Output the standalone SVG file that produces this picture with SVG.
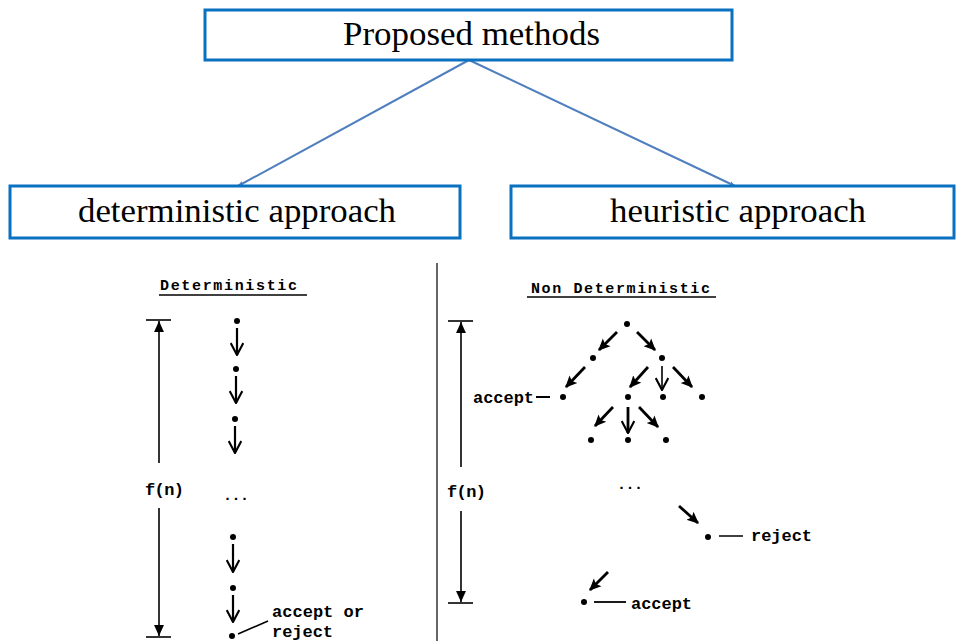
<svg xmlns="http://www.w3.org/2000/svg" width="957" height="641" viewBox="0 0 957 641">
<style>
.box{fill:#fff;stroke:#0a70c0;stroke-width:3}
.title{font-family:"Liberation Serif","Times New Roman",serif;font-size:34px;fill:#000}
.mono{font-family:"Liberation Mono","DejaVu Sans Mono",monospace;font-weight:bold;fill:#000}
.blue{stroke:#4f7fbe;stroke-width:2;fill:none}
.thin{stroke:#000;stroke-width:1.6;fill:none}
.mid{stroke:#000;stroke-width:2.2;fill:none}
.thick{stroke:#000;stroke-width:2.8;fill:none}
.dot{fill:#000}
</style>
<defs>
<marker id="ba" viewBox="0 0 10 10" refX="9" refY="5" markerWidth="6" markerHeight="6" orient="auto" markerUnits="userSpaceOnUse">
<path d="M0,1 L10,5 L0,9 z" fill="#4f7fbe"/>
</marker>
<marker id="fa" viewBox="0 0 10 10" refX="10" refY="5" markerWidth="11" markerHeight="11" orient="auto" markerUnits="userSpaceOnUse">
<path d="M0,0.5 L10,5 L0,9.5 z" fill="#000"/>
</marker>
<marker id="ta" viewBox="0 0 10 10" refX="9" refY="5" markerWidth="12" markerHeight="12" orient="auto" markerUnits="userSpaceOnUse">
<path d="M0,0.5 L10,5 L0,9.5 L2,5 z" fill="#000"/>
</marker>
<marker id="va" viewBox="0 0 10 10" refX="9.5" refY="5" markerWidth="14" markerHeight="14" orient="auto" markerUnits="userSpaceOnUse">
<path d="M1,0.5 L9.5,5 L1,9.5" fill="none" stroke="#000" stroke-width="1.5"/>
</marker>
</defs>

<g id="connectors">
<line class="blue" x1="469" y1="60" x2="238" y2="186" marker-end="url(#ba)"/>
<line class="blue" x1="469" y1="60" x2="735" y2="186" marker-end="url(#ba)"/>
</g>

<g id="proposed">
<rect class="box" x="205" y="10" width="527" height="50"/>
<text class="title" x="343" y="45" textLength="257" lengthAdjust="spacingAndGlyphs">Proposed methods</text>
</g>
<g id="deterministic">
<rect class="box" x="10" y="186" width="450" height="52"/>
<text class="title" x="78" y="222" textLength="318" lengthAdjust="spacingAndGlyphs">deterministic approach</text>
</g>
<g id="heuristic">
<rect class="box" x="511" y="186" width="443" height="52"/>
<text class="title" x="610" y="222" textLength="256" lengthAdjust="spacingAndGlyphs">heuristic approach</text>
</g>

<line x1="437" y1="263" x2="437" y2="641" stroke="#333" stroke-width="1.5"/>

<g id="left-panel">
<text class="mono" x="160" y="290" font-size="15" textLength="137" lengthAdjust="spacing">Deterministic</text>
<line x1="159" y1="295" x2="307" y2="295" stroke="#000" stroke-width="1.3"/>
<line x1="146" y1="320" x2="171" y2="320" class="thin"/>
<line x1="146" y1="637" x2="171" y2="637" class="thin"/>
<line x1="159" y1="463" x2="159" y2="321" class="thin" marker-end="url(#fa)"/>
<line x1="159" y1="508" x2="159" y2="636" class="thin" marker-end="url(#fa)"/>
<text class="mono" x="145" y="495" font-size="17" textLength="39" lengthAdjust="spacing">f(n)</text>
<circle class="dot" cx="237" cy="321" r="3"/>
<line class="mid" x1="237" y1="328" x2="237" y2="355" marker-end="url(#va)"/>
<circle class="dot" cx="236" cy="369" r="3"/>
<line class="mid" x1="236" y1="376" x2="236" y2="403" marker-end="url(#va)"/>
<circle class="dot" cx="235" cy="419" r="3"/>
<line class="mid" x1="235" y1="426" x2="235" y2="453" marker-end="url(#va)"/>
<text class="mono" x="223" y="500" font-size="15" textLength="26" lengthAdjust="spacing" font-weight="normal">...</text>
<circle class="dot" cx="233" cy="537" r="3"/>
<line class="mid" x1="233" y1="544" x2="233" y2="572" marker-end="url(#va)"/>
<circle class="dot" cx="233" cy="588" r="3"/>
<line class="mid" x1="233" y1="595" x2="233" y2="622" marker-end="url(#va)"/>
<circle class="dot" cx="232" cy="636" r="3"/>
<line x1="238" y1="634" x2="268" y2="621" stroke="#000" stroke-width="1.6"/>
<text class="mono" x="272" y="617" font-size="17" textLength="92" lengthAdjust="spacing" font-weight="normal">accept or</text>
<text class="mono" x="272" y="637" font-size="17" textLength="61" lengthAdjust="spacing" font-weight="normal">reject</text>
</g>

<g id="right-panel">
<text class="mono" x="531" y="293" font-size="15" textLength="179" lengthAdjust="spacing">Non Deterministic</text>
<line x1="527" y1="297" x2="716" y2="297" stroke="#000" stroke-width="1.3"/>
<line x1="448" y1="321" x2="473" y2="321" class="thin"/>
<line x1="448" y1="603" x2="473" y2="603" class="thin"/>
<line x1="461" y1="467" x2="461" y2="322" class="thin" marker-end="url(#fa)"/>
<line x1="461" y1="511" x2="461" y2="602" class="thin" marker-end="url(#fa)"/>
<text class="mono" x="447" y="497" font-size="17" textLength="39" lengthAdjust="spacing">f(n)</text>

<circle class="dot" cx="627" cy="324" r="3"/>
<circle class="dot" cx="593" cy="358" r="3"/>
<circle class="dot" cx="662" cy="358" r="3"/>
<circle class="dot" cx="563" cy="397" r="3"/>
<circle class="dot" cx="628" cy="397" r="3"/>
<circle class="dot" cx="663" cy="397" r="3"/>
<circle class="dot" cx="702" cy="397" r="3"/>
<circle class="dot" cx="591" cy="440" r="3"/>
<circle class="dot" cx="628" cy="440" r="3"/>
<circle class="dot" cx="666" cy="440" r="3"/>

<line class="thick" x1="617" y1="332" x2="599" y2="350" marker-end="url(#ta)"/>
<line class="thick" x1="637" y1="332" x2="655" y2="350" marker-end="url(#ta)"/>
<line class="thick" x1="585" y1="367" x2="566" y2="387" marker-end="url(#ta)"/>
<line class="thick" x1="648" y1="367" x2="630" y2="387" marker-end="url(#ta)"/>
<line class="thin" x1="662" y1="366" x2="662" y2="390" marker-end="url(#va)"/>
<line class="thick" x1="673" y1="367" x2="692" y2="387" marker-end="url(#ta)"/>
<line class="thick" x1="613" y1="407" x2="595" y2="426" marker-end="url(#ta)"/>
<line class="thick" x1="628" y1="407" x2="628" y2="433" marker-end="url(#va)"/>
<line class="thick" x1="639" y1="407" x2="658" y2="427" marker-end="url(#ta)"/>

<text class="mono" x="473" y="403" font-size="17" textLength="61" lengthAdjust="spacing">accept</text>
<line x1="536" y1="397" x2="550" y2="397" stroke="#000" stroke-width="2"/>

<text class="mono" x="617" y="489" font-size="15" textLength="26" lengthAdjust="spacing" font-weight="normal">...</text>

<line class="thick" x1="679" y1="506" x2="698" y2="523" marker-end="url(#ta)"/>
<circle class="dot" cx="708" cy="537" r="3"/>
<line x1="719" y1="536" x2="743" y2="536" stroke="#000" stroke-width="1.5"/>
<text class="mono" x="751" y="541" font-size="17" textLength="61" lengthAdjust="spacing">reject</text>

<line class="thick" x1="608" y1="572" x2="590" y2="590" marker-end="url(#ta)"/>
<circle class="dot" cx="584" cy="602" r="3"/>
<line x1="594" y1="602" x2="626" y2="602" stroke="#000" stroke-width="1.8"/>
<text class="mono" x="631" y="609" font-size="17" textLength="61" lengthAdjust="spacing">accept</text>
</g>
</svg>
